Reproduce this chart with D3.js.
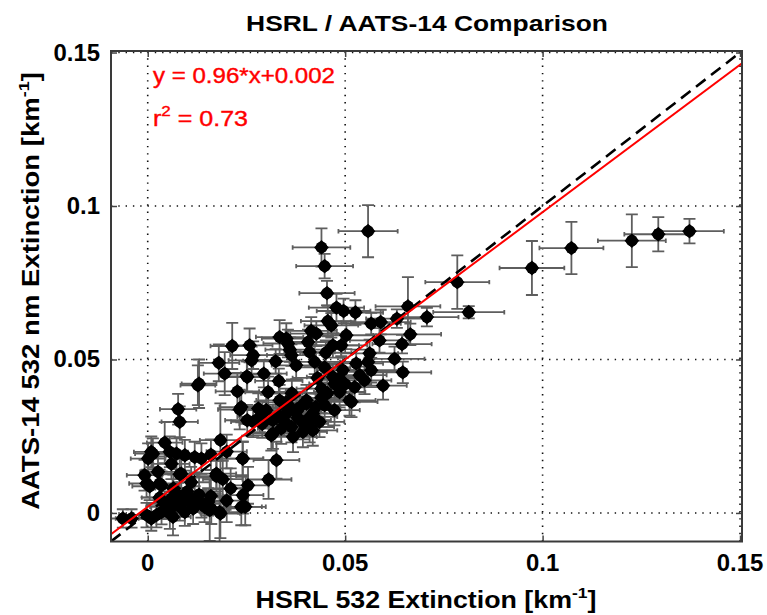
<!DOCTYPE html>
<html><head><meta charset="utf-8">
<script src="https://cdn.jsdelivr.net/npm/d3@7"></script>
<style>
html,body{margin:0;padding:0;background:#fff;}
svg text{font-family:"Liberation Sans",Arial,sans-serif;}
</style></head>
<body>
<svg id="chart" width="767" height="615"></svg>
<script>
// ---------- DATA ----------
const titleText = "HSRL / AATS-14 Comparison";
const xTicks = [0, 0.05, 0.1, 0.15];
const xTickLabels = ["0", "0.05", "0.1", "0.15"];
const yTicks = [0, 0.05, 0.1, 0.15];
const yTickLabels = ["0", "0.05", "0.1", "0.15"];
const fitSlope = 0.96, fitIntercept = 0.002, fitR2 = 0.73;

// HSRL 532 extinction (x)
const hsrl = [0.0558,0.0440,0.0448,0.0454,0.0973,0.1073,0.1226,0.1293,0.1372,0.0784,
0.0813,0.0707,0.0659,0.0631,0.0590,0.0566,0.0665,0.0587,0.0644,0.0625,
0.0646,0.0596,0.0566,0.0562,0.0478,0.0496,0.0526,0.0456,0.0465,0.0414,
0.0427,0.0503,0.0334,0.0351,0.0355,0.0406,0.0469,0.0490,0.0360,0.0410,
0.0451,0.0364,0.0258,0.0267,0.0263,0.0324,0.0376,0.0423,0.0448,0.0528,
0.0558,0.0251,0.0294,0.0332,0.0469,0.0494,0.0537,0.0549,0.0214,0.0180,
0.0195,0.0130,0.0127,0.0227,0.0233,0.0077,0.0081,0.0043,0.0184,0.0252,
0.0252,0.0237,0.0013,-0.0008,0.0026,-0.0003,0.0030,0.0085,0.0056,0.0073,
0.0094,0.0119,0.0136,0.0174,0.0182,0.0241,0.0241,0.0237,-0.0063,-0.0041,
0.0051,0.0035,0.0068,0.0085,0.0102,0.0119,0.0136,0.0153,0.0060,0.0077,
0.0043,0.0094,0.0115,0.0144,0.0161,0.0081,0.0022,0.0009,0.0056,0.0064,
-0.0003,0.0009,0.0001,0.0005,0.0035,0.0081,0.0174,0.0240,0.0254,0.0247,
0.0184,0.0157,0.0306,0.0326,0.0267,0.0284,0.0300,0.0317,0.0334,0.0351,
0.0364,0.0368,0.0385,0.0402,0.0418,0.0435,0.0317,0.0338,0.0402,0.0418,
0.0473,0.0473,0.0486,0.0516,0.0305,0.0360,0.0376,0.0402,0.0448,0.0440,
0.0486,0.0511,0.0524,0.0313,0.0393,0.0410,0.0418,
0.0290,0.0330,0.0345,0.0380,0.0395,0.0425,0.0440,0.0455,0.0500,0.0350,
0.0280,0.0365,0.0430,0.0100,0.0130,0.0160,0.0200,0.0065,0.0110,0.0030,
0.0190,0.0210,0.0160,0.0200,0.0060];

// AATS-14 532 nm extinction (y)
const aats = [0.0918,0.0865,0.0804,0.0716,0.0798,0.0863,0.0887,0.0908,0.0918,0.0752,
0.0654,0.0638,0.0673,0.0633,0.0622,0.0617,0.0582,0.0562,0.0550,0.0502,
0.0458,0.0415,0.0465,0.0520,0.0669,0.0658,0.0653,0.0625,0.0611,0.0593,
0.0584,0.0579,0.0573,0.0568,0.0552,0.0557,0.0546,0.0546,0.0532,0.0524,
0.0522,0.0514,0.0546,0.0514,0.0497,0.0494,0.0481,0.0492,0.0474,0.0487,
0.0492,0.0445,0.0454,0.0430,0.0443,0.0465,0.0449,0.0432,0.0544,0.0489,
0.0454,0.0421,0.0416,0.0396,0.0337,0.0338,0.0297,0.0229,0.0237,0.0443,
0.0302,0.0345,0.0193,0.0123,0.0134,0.0096,0.0096,0.0128,0.0199,0.0193,
0.0188,0.0182,0.0177,0.0128,0.0003,0.0177,0.0058,0.0020,-0.0018,-0.0018,
0.0020,0.0003,0.0025,0.0030,0.0041,0.0047,0.0030,0.0036,0.0047,0.0058,
0.0030,0.0003,0.0014,0.0020,0.0014,0.0020,-0.0007,-0.0018,-0.0002,-0.0013,
-0.0007,0.0199,0.0177,0.0087,0.0090,0.0126,0.0120,0.0177,0.0090,0.0020,
-0.0002,0.0009,0.0109,0.0172,0.0297,0.0313,0.0335,0.0302,0.0367,0.0324,
0.0280,0.0248,0.0345,0.0302,0.0324,0.0297,0.0259,0.0275,0.0367,0.0269,
0.0335,0.0421,0.0438,0.0362,0.0394,0.0345,0.0329,0.0356,0.0351,0.0405,
0.0394,0.0367,0.0410,0.0253,0.0264,0.0280,0.0313,
0.0290,0.0315,0.0300,0.0310,0.0290,0.0345,0.0375,0.0390,0.0420,0.0360,
0.0340,0.0390,0.0440,0.0070,0.0060,0.0055,0.0040,0.0080,0.0100,0.0050,
0.0110,0.0080,0.0190,0.0200,0.0160];

// HSRL uncertainty (x error)
const hsrlErr = [0.0075,0.0073,0.0072,0.0070,0.0082,0.0081,0.0086,0.0086,0.0087,0.0081,
0.0090,0.0080,0.0082,0.0078,0.0076,0.0075,0.0078,0.0075,0.0075,0.0076,
0.0072,0.0060,0.0070,0.0072,0.0070,0.0068,0.0070,0.0068,0.0068,0.0065,
0.0066,0.0068,0.0060,0.0062,0.0062,0.0064,0.0066,0.0066,0.0062,0.0064,
0.0065,0.0062,0.0058,0.0058,0.0058,0.0060,0.0062,0.0064,0.0065,0.0068,
0.0070,0.0056,0.0058,0.0060,0.0066,0.0066,0.0068,0.0068,0.0055,0.0052,
0.0053,0.0044,0.0044,0.0055,0.0055,0.0046,0.0046,0.0045,0.0052,0.0056,
0.0056,0.0055,0.0045,0.0045,0.0045,0.0044,0.0044,0.0046,0.0046,0.0046,
0.0047,0.0048,0.0048,0.0050,0.0050,0.0052,0.0052,0.0052,0.0040,0.0040,
0.0045,0.0045,0.0045,0.0046,0.0047,0.0047,0.0048,0.0049,0.0045,0.0046,
0.0045,0.0046,0.0047,0.0048,0.0049,0.0046,0.0044,0.0044,0.0045,0.0045,
0.0043,0.0044,0.0044,0.0044,0.0045,0.0046,0.0050,0.0052,0.0052,0.0052,
0.0050,0.0049,0.0058,0.0058,0.0056,0.0057,0.0058,0.0058,0.0059,0.0060,
0.0060,0.0060,0.0061,0.0062,0.0062,0.0063,0.0058,0.0059,0.0062,0.0062,
0.0064,0.0064,0.0065,0.0066,0.0058,0.0060,0.0061,0.0062,0.0063,0.0063,
0.0065,0.0066,0.0066,0.0058,0.0061,0.0062,0.0062,
0.0058,0.0059,0.0060,0.0061,0.0062,0.0063,0.0063,0.0064,0.0066,0.0060,
0.0057,0.0061,0.0063,0.0047,0.0048,0.0049,0.0051,0.0046,0.0047,0.0045,
0.0050,0.0051,0.0049,0.0051,0.0046];

// AATS-14 uncertainty (y error)
const aatsErr = [0.0085,0.0062,0.0040,0.0040,0.0088,0.0085,0.0086,0.0056,0.0040,0.0087,
0.0020,0.0030,0.0095,0.0030,0.0040,0.0035,0.0035,0.0040,0.0030,0.0040,
0.0035,0.0046,0.0040,0.0045,0.0045,0.0040,0.0040,0.0050,0.0040,0.0045,
0.0040,0.0045,0.0055,0.0050,0.0045,0.0040,0.0040,0.0035,0.0040,0.0045,
0.0040,0.0035,0.0055,0.0045,0.0045,0.0040,0.0045,0.0040,0.0040,0.0045,
0.0040,0.0050,0.0045,0.0040,0.0040,0.0040,0.0040,0.0045,0.0075,0.0060,
0.0070,0.0079,0.0065,0.0060,0.0065,0.0050,0.0050,0.0067,0.0120,0.0050,
0.0050,0.0050,0.0050,0.0050,0.0050,0.0045,0.0045,0.0050,0.0050,0.0050,
0.0050,0.0050,0.0050,0.0050,0.0100,0.0055,0.0060,0.0060,0.0030,0.0030,
0.0040,0.0040,0.0040,0.0040,0.0040,0.0040,0.0045,0.0045,0.0040,0.0040,
0.0040,0.0045,0.0050,0.0050,0.0050,0.0045,0.0040,0.0040,0.0050,0.0060,
0.0040,0.0050,0.0050,0.0045,0.0045,0.0050,0.0050,0.0055,0.0060,0.0060,
0.0080,0.0100,0.0063,0.0060,0.0050,0.0050,0.0050,0.0050,0.0050,0.0050,
0.0050,0.0050,0.0050,0.0050,0.0050,0.0050,0.0050,0.0050,0.0050,0.0050,
0.0050,0.0050,0.0050,0.0050,0.0050,0.0050,0.0050,0.0050,0.0050,0.0050,
0.0050,0.0050,0.0050,0.0050,0.0050,0.0050,0.0050,
0.0045,0.0045,0.0050,0.0045,0.0050,0.0045,0.0050,0.0045,0.0050,0.0045,
0.0050,0.0045,0.0050,0.0050,0.0055,0.0060,0.0070,0.0045,0.0050,0.0045,
0.0060,0.0065,0.0050,0.0055,0.0050];

// ---------- DRAW ----------
const svg = d3.select("#chart");
const L = 111, R = 742, T = 51, B = 541.5;
const x = d3.scaleLinear().domain([-0.0093, 0.1505]).range([L, R]);
const y = d3.scaleLinear().domain([-0.0093, 0.1505]).range([B, T]);

svg.append("rect").attr("width",767).attr("height",615).attr("fill","#fff");

const defs = svg.append("defs");
defs.append("clipPath").attr("id","clip").append("rect")
  .attr("x",L).attr("y",T).attr("width",R-L).attr("height",B-T);

// grid
const grid = svg.append("g").attr("stroke","#111").attr("stroke-width",1.6)
  .attr("stroke-dasharray","1.4,5.9");
grid.selectAll("line.gx").data(xTicks).join("line")
  .attr("x1",d=>x(d)).attr("x2",d=>x(d)).attr("y1",B).attr("y2",T);
grid.selectAll("line.gy").data(yTicks).join("line")
  .attr("x1",L).attr("x2",R).attr("y1",d=>y(d)).attr("y2",d=>y(d));

const pts = hsrl.map((v,i)=>({x:v, y:aats[i], ex:hsrlErr[i], ey:aatsErr[i]}));

const plot = svg.append("g").attr("clip-path","url(#clip)");

// error bars
const eb = plot.append("g").attr("stroke","#5e5e5e").attr("stroke-width",1.8).attr("fill","none");
const ebp = d => {
  const cx = x(d.x), cy = y(d.y);
  const x0 = x(d.x-d.ex), x1 = x(d.x+d.ex), y0 = y(d.y-d.ey), y1 = y(d.y+d.ey);
  return `M${x0},${cy}H${x1}M${x0},${cy-2.2}V${cy+2.2}M${x1},${cy-2.2}V${cy+2.2}` +
         `M${cx},${y0}V${y1}M${cx-6},${y0}H${cx+6}M${cx-6},${y1}H${cx+6}`;
};
eb.selectAll("path").data(pts).join("path").attr("d", ebp);

// markers (filled diamond + disc)
const mk = plot.append("g").attr("fill","#000");
mk.selectAll("path").data(pts).join("path")
  .attr("d", d => {
    const cx = x(d.x), cy = y(d.y), h = 7.4;
    return `M${cx},${cy-h}L${cx+h},${cy}L${cx},${cy+h}L${cx-h},${cy}Z`;
  });
mk.selectAll("circle").data(pts).join("circle")
  .attr("cx", d=>x(d.x)).attr("cy", d=>y(d.y)).attr("r", 5.9);

// 1:1 line and fit
const dom = x.domain();
const line = d3.line().x(d=>x(d[0])).y(d=>y(d[1]));
plot.append("path").attr("d", line([[dom[0],dom[0]],[dom[1],dom[1]]]))
  .attr("stroke","#000").attr("stroke-width",2.6).attr("stroke-dasharray","12,7").attr("fill","none");
plot.append("path").attr("d", line([[dom[0],fitSlope*dom[0]+fitIntercept],[dom[1],fitSlope*dom[1]+fitIntercept]]))
  .attr("stroke","#ff0000").attr("stroke-width",2).attr("fill","none");

// axes with inward ticks on all four sides
const axStyle = g => { g.select(".domain").remove(); g.selectAll(".tick line").attr("stroke","#444").attr("stroke-width",1.5); g.selectAll("text").remove(); };
svg.append("g").attr("transform",`translate(0,${B})`).call(d3.axisBottom(x).tickValues(xTicks).tickSizeInner(-6).tickSizeOuter(0)).call(axStyle);
svg.append("g").attr("transform",`translate(0,${T})`).call(d3.axisTop(x).tickValues(xTicks).tickSizeInner(-6).tickSizeOuter(0)).call(axStyle);
svg.append("g").attr("transform",`translate(${L},0)`).call(d3.axisLeft(y).tickValues(yTicks).tickSizeInner(-6).tickSizeOuter(0)).call(axStyle);
svg.append("g").attr("transform",`translate(${R},0)`).call(d3.axisRight(y).tickValues(yTicks).tickSizeInner(-6).tickSizeOuter(0)).call(axStyle);

// box
svg.append("rect").attr("x",L).attr("y",T).attr("width",R-L).attr("height",B-T)
  .attr("fill","none").attr("stroke","#3a3a3a").attr("stroke-width",2);

// text helpers
function place(t, tx, ty, rot, target, kdef) {
  const w = t.node().getComputedTextLength();
  const k = target ? target / w : (kdef || 1.05);
  t.attr("transform", `translate(${tx},${ty})${rot?` rotate(${rot})`:""} scale(${k},1)`);
}

// tick labels
xTicks.forEach((v,i)=>{
  const t = svg.append("text").attr("text-anchor","middle").attr("font-size",23).attr("font-weight","bold")
    .attr("fill","#000").text(xTickLabels[i]);
  place(t, x(v), 571, 0, null, 1.04);
});
yTicks.forEach((v,i)=>{
  const t = svg.append("text").attr("text-anchor","end").attr("font-size",23).attr("font-weight","bold")
    .attr("fill","#000").text(yTickLabels[i]);
  place(t, 100, y(v)+8, 0, null, 1.04);
});

// title
const tt = svg.append("text").attr("text-anchor","middle").attr("font-size",22).attr("font-weight","bold").text(titleText);
place(tt, 427, 31, 0, 362);

// x label
const xl = svg.append("text").attr("text-anchor","middle").attr("font-size",23).attr("font-weight","bold");
xl.append("tspan").text("HSRL 532 Extinction [km");
xl.append("tspan").attr("font-size",15).attr("dy",-10).text("-1");
xl.append("tspan").attr("dy",10).text("]");
place(xl, 426, 608, 0, 341);

// y label
const yl = svg.append("text").attr("text-anchor","middle").attr("font-size",23).attr("font-weight","bold");
yl.append("tspan").text("AATS-14 532 nm Extinction [km");
yl.append("tspan").attr("font-size",15).attr("dy",-10).text("-1");
yl.append("tspan").attr("dy",10).text("]");
place(yl, 39, 291, -90, 438);

// fit annotation
const eq = svg.append("text").attr("font-size",22).attr("fill","#ff0000")
  .attr("stroke","#ff0000").attr("stroke-width",0.4)
  .text(`y = ${fitSlope}*x+${fitIntercept}`);
place(eq, 153, 83, 0, 182);
const r2 = svg.append("text").attr("font-size",22).attr("fill","#ff0000")
  .attr("stroke","#ff0000").attr("stroke-width",0.4);
r2.append("tspan").text("r");
r2.append("tspan").attr("font-size",15).attr("dy",-10).text("2");
r2.append("tspan").attr("dy",10).text(` = ${fitR2}`);
place(r2, 153, 126, 0, 95);
</script>
</body></html>
